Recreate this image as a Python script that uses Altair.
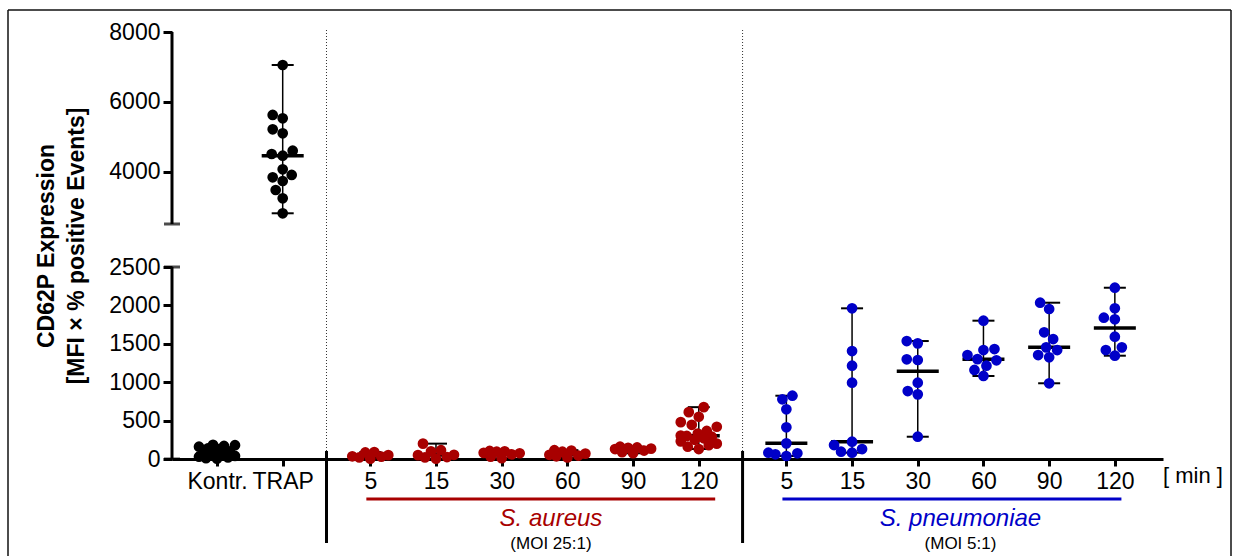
import altair as alt
import pandas as pd

# ---------------- data ----------------
ctrl_labels = ["Kontr.", "TRAP"]
time_labels = ["5", "15", "30", "60", "90", "120"]

kontr = [185, 180, 170, 160, 140, 120, 100, 65, 60, 50, 40, 30, 20, 10, 5]
trap = [7055, 5623, 5528, 5213, 5098, 4600, 4505, 4457, 4067, 3904, 3838, 3732, 3474, 3236, 2807]

sa_5 = [90, 85, 50, 35, 30, 20, 5]
sa_15 = [200, 115, 100, 55, 50, 25, 20, 5]
sa_30 = [105, 100, 95, 80, 75, 60, 30, 10]
sa_60 = [115, 110, 95, 70, 55, 45, 35, 20]
sa_90 = [160, 150, 145, 135, 130, 110, 90, 75]
sa_120 = [675, 610, 550, 480, 445, 420, 365, 330, 305, 300, 290, 270, 250, 230, 200, 180, 160, 130]

sp_5 = [824, 777, 647, 413, 204, 82, 74, 61, 39]
sp_15 = [1962, 1406, 1215, 993, 225, 182, 130, 95, 82]
sp_30 = [1536, 1506, 1298, 1289, 993, 885, 842, 290]
sp_60 = [1801, 1432, 1419, 1354, 1300, 1285, 1215, 1159, 1081]
sp_90 = [2035, 1953, 1650, 1562, 1454, 1419, 1354, 1324, 986]
sp_120 = [2230, 1962, 1840, 1819, 1592, 1454, 1419, 1345]

y_ticks = [0, 500, 1000, 1500, 2000, 2500, 4000, 6000, 8000]
y_title = ["CD62P Expression", "[MFI \u00d7 % positive Events]"]
group_names = ["S. aureus", "S. pneumoniae"]
group_notes = ["(MOI 25:1)", "(MOI 5:1)"]
unit_label = "[ min ]"

# ---------------- styling / layout ----------------
RED = "#A80000"
BLUE = "#0000C8"
FONT = "Liberation Sans"
W, H = 991, 427
LOW_H, GAP = 192, 43
BREAK = 2500
Y_DOMAIN = [0, BREAK, BREAK + 0.01, 8000]
Y_RANGE = [H, H - LOW_H, H - LOW_H - GAP, 0]
BLOCK_GAP = 4 / 3

blocks = [
    ("ctrl", ctrl_labels, [kontr, trap], "black"),
    ("sa", time_labels, [sa_5, sa_15, sa_30, sa_60, sa_90, sa_120], RED),
    ("sp", time_labels, [sp_5, sp_15, sp_30, sp_60, sp_90, sp_120], BLUE),
]

positions, labels, starts = [], [], []
start = 0.0
for name, labs, vals, col in blocks:
    starts.append(start)
    for i, lab in enumerate(labs):
        positions.append(start + i)
        labels.append(lab)
    start = start + len(labs) - 1 + BLOCK_GAP
X_LO = positions[0] - 0.685
X_HI = positions[-1] + 0.733
PPU = W / (X_HI - X_LO)


def ypx(v):
    if v <= BREAK:
        return v * LOW_H / BREAK
    return LOW_H + GAP + (v - BREAK) * (H - LOW_H - GAP) / (8000 - BREAK)


def swarm(vals, d=10.5, w=18):
    placed, out = [], {}
    cands = sorted(range(-w, w + 1), key=lambda c: (abs(c), c))
    for i in sorted(range(len(vals)), key=lambda k: vals[k]):
        yp = ypx(vals[i])
        best = None
        for c in cands:
            if all((c - px) ** 2 + (yp - py) ** 2 >= d * d for px, py in placed):
                best = c
                break
        if best is None:
            best = max(cands, key=lambda c: min((c - px) ** 2 + (yp - py) ** 2 for px, py in placed))
        placed.append((best, yp))
        out[i] = best
    return [out[i] for i in range(len(vals))]


rows = []
k = 0
for name, labs, vals, col in blocks:
    for i, vs in enumerate(vals):
        offs = swarm(vs)
        for v, o in zip(vs, offs):
            rows.append({"pos": positions[k], "xj": positions[k] + o / PPU, "v": v, "grp": name})
        k += 1
df = pd.DataFrame(rows)

keys = [round(p * 3) for p in positions]
label_expr = "[" + ",".join("'%s'" % s for s in labels) + "][indexof([" + ",".join(str(q) for q in keys) + "], round(datum.value*3))]"

xs = alt.Scale(domain=[X_LO, X_HI], nice=False, zero=False)
ys = alt.Scale(domain=Y_DOMAIN, range=Y_RANGE, nice=False, zero=False)

x_axis = alt.Axis(values=positions, labelExpr=label_expr, title=None, grid=False,
                  domain=True, domainWidth=3, domainColor="black",
                  ticks=True, tickSize=7, tickWidth=3, tickColor="black",
                  labelFont=FONT, labelFontSize=23, labelColor="black", labelPadding=4,
                  labelFlush=False, labelOverlap=False)
y_axis = alt.Axis(values=y_ticks, format="d", title=y_title, grid=False, domain=False,
                  ticks=True, tickSize=9, tickWidth=3, tickColor="black",
                  labelFont=FONT, labelFontSize=23, labelColor="black", labelPadding=3,
                  labelFlush=False, labelOverlap=False,
                  titleFont=FONT, titleFontSize=23, titleFontWeight="bold", titleColor="black",
                  titleLineHeight=30, titlePadding=20)


def X(field):
    return alt.X(field, scale=xs, axis=x_axis)


def Y(field):
    return alt.Y(field, scale=ys, axis=y_axis, title=y_title)


color = alt.Color("grp:N", scale=alt.Scale(domain=["ctrl", "sa", "sp"], range=["black", RED, BLUE]), legend=None)

base = alt.Chart(df)

rng = base.mark_rule(color="black", strokeWidth=1.5).encode(
    x=X("pos:Q"), y=Y("min(v):Q"), y2="max(v):Q")
cap_lo = base.mark_tick(orient="horizontal", size=22, thickness=2, color="black").encode(
    x=X("pos:Q"), y=Y("min(v):Q"))
cap_hi = base.mark_tick(orient="horizontal", size=22, thickness=2, color="black").encode(
    x=X("pos:Q"), y=Y("max(v):Q"))
med = base.mark_tick(orient="horizontal", size=42, thickness=3.5, color="black").encode(
    x=X("pos:Q"), y=Y("median(v):Q"))
pts = base.mark_circle(size=115, opacity=1).encode(
    x=X("xj:Q"), y=Y("v:Q"), color=color)

# broken y axis line with end caps
seg_df = pd.DataFrame({"x": [X_LO, X_LO], "y": [0, BREAK + 0.01], "y2": [BREAK, 8000]})
yline = alt.Chart(seg_df).mark_rule(color="black", strokeWidth=3).encode(
    x=X("x:Q"), y=Y("y:Q"), y2="y2:Q")
caps = alt.Chart(seg_df).mark_tick(orient="horizontal", size=16, thickness=3, color="black").encode(
    x=X("x:Q"), y=Y("y:Q"))
caps2 = alt.Chart(pd.DataFrame({"x": [X_LO], "y": [BREAK]})).mark_tick(
    orient="horizontal", size=16, thickness=3, color="black").encode(
    x=X("x:Q"), y=Y("y:Q"))

# group separators
bounds = [(positions[1] + positions[2]) / 2, (positions[7] + positions[8]) / 2]
sep_df = pd.DataFrame({"x": bounds})
dotted = alt.Chart(sep_df).mark_rule(color="#333", strokeWidth=1, strokeDash=[1, 2]).encode(
    x=X("x:Q"), y=alt.value(-2), y2=alt.value(H - 8))
solid = alt.Chart(sep_df).mark_rule(color="black", strokeWidth=3).encode(
    x=X("x:Q"), y=alt.value(H - 8), y2=alt.value(H + 84))

# group underlines and names
g_df = pd.DataFrame({
    "x1": [starts[1] - 0.06, starts[2] - 0.06],
    "x2": [starts[1] + 5.25, starts[2] + 5.1],
    "xc": [starts[1] + 2.5 + 0.25, starts[2] + 2.5 + 0.15],
    "name": group_names, "note": group_notes, "grp": ["sa", "sp"]})
uline = alt.Chart(g_df).mark_rule(strokeWidth=3).encode(
    x=X("x1:Q"), x2="x2:Q", y=alt.value(H + 40), color=color)
gname = alt.Chart(g_df).mark_text(font=FONT, fontSize=24, fontStyle="italic", align="center",
                                   baseline="alphabetic").encode(
    x=X("xc:Q"), y=alt.value(H + 67), text="name:N", color=color)
gnote = alt.Chart(g_df).mark_text(font=FONT, fontSize=17, align="center", baseline="alphabetic",
                                   color="black").encode(
    x=X("xc:Q"), y=alt.value(H + 90), text="note:N")
unit = alt.Chart(pd.DataFrame({"x": [X_HI], "t": [unit_label]})).mark_text(
    font=FONT, fontSize=22, align="left", baseline="alphabetic", color="black", dx=0).encode(
    x=X("x:Q"), y=alt.value(H + 24), text="t:N")

# outer frame
one = pd.DataFrame({"a": [0]})
fl, ft, fr, fb = 8 - 172, 10 - 32, 1231 - 172, 556 - 32
frame_l = alt.Chart(one).mark_rule(color="#111", strokeWidth=1.5).encode(
    x=alt.value(fl), y=alt.value(ft), y2=alt.value(fb))
frame_t = alt.Chart(one).mark_rule(color="#111", strokeWidth=1.5).encode(
    x=alt.value(fl), x2=alt.value(fr), y=alt.value(ft))
frame_r = alt.Chart(one).mark_rule(color="#111", strokeWidth=1.5).encode(
    x=alt.value(fr), y=alt.value(ft), y2=alt.value(fb))

chart = alt.layer(
    frame_l, frame_t, frame_r, dotted, solid, yline, caps, caps2,
    rng, cap_lo, cap_hi, med, pts, uline, gname, gnote, unit
).properties(
    width=W, height=H,
    padding={"left": 172, "top": 32, "right": 1242 - 172 - W, "bottom": 556 - 32 - H},
    autosize=alt.AutoSizeParams(type="none"),
    background="white",
).configure_view(stroke=None)

chart.save("out.html", embed_options={"renderer": "svg", "actions": False})
